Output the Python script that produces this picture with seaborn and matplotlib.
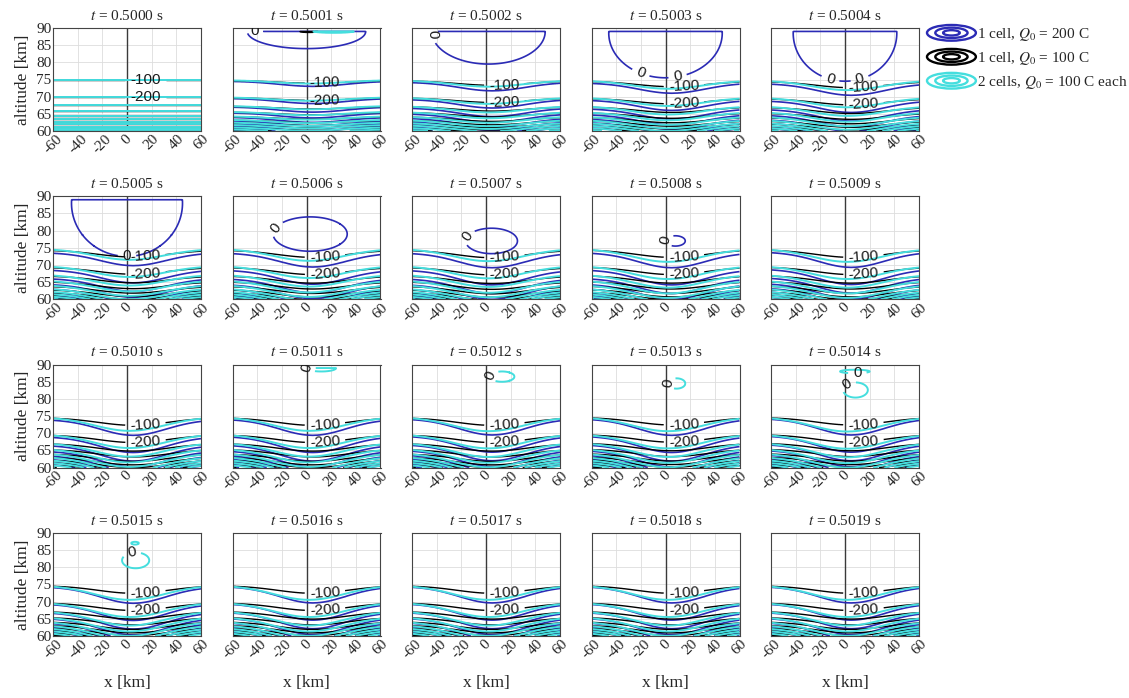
import numpy as np
import matplotlib
matplotlib.use("Agg")
import matplotlib.pyplot as plt
from matplotlib.legend_handler import HandlerBase
from matplotlib.lines import Line2D
from matplotlib.patches import Ellipse
import seaborn as sns

# panel times [s]
times = ["0.5000", "0.5001", "0.5002", "0.5003", "0.5004",
         "0.5005", "0.5006", "0.5007", "0.5008", "0.5009",
         "0.5010", "0.5011", "0.5012", "0.5013", "0.5014",
         "0.5015", "0.5016", "0.5017", "0.5018", "0.5019"]

series = ["1 cell, $Q_0$ = 200 C", "1 cell, $Q_0$ = 100 C", "2 cells, $Q_0$ = 100 C each"]

# vertical profile of the undisturbed field (altitude [km] -> value)
prof_alt = [59.0, 60.2, 60.7, 61.3, 62.0, 62.7, 63.5, 64.5, 65.8, 67.5, 70.0, 75.0, 90.0, 100.0]
prof_val = [-1300, -1100, -1000, -900, -800, -700, -600, -500, -400, -300, -200, -100, -40, -30]
plain_levels = [-1100, -1000, -900, -800, -700, -600, -500, -400, -300]
labelled_levels = [-200, -100]

# layer shift at the edges and central sag [km], per panel
blue_shift = [0, 0.5, 0.8, 1.0, 1.2, 1.4, 1.5, 1.5, 1.4, 1.2, 1.0, 0.9, 0.8, 0.8, 0.7, 0.7, 0.6, 0.6, 0.6, 0.6]
blue_dip = [0, 1.5, 2.5, 3.0, 3.4, 3.8, 4.1, 4.3, 4.4, 4.5, 4.6, 4.7, 4.7, 4.8, 4.8, 4.8, 4.8, 4.8, 4.8, 4.8]
black_shift = [0, 0.3, 0.4, 0.5, 0.6, 0.7, 0.7, 0.7, 0.6, 0.6, 0.5, 0.5, 0.5, 0.4, 0.4, 0.4, 0.4, 0.4, 0.4, 0.4]
black_dip = [0, 0.8, 1.3, 1.6, 1.8, 2.0, 2.1, 2.2, 2.2, 2.2, 2.2, 2.2, 2.2, 2.2, 2.2, 2.2, 2.2, 2.2, 2.2, 2.2]
cyan_shift = [0, 0.2, 0.3, 0.3, 0.3, 0.3, 0.3, 0.3, 0.3, 0.3, 0.3, 0.3, 0.3, 0.3, 0.3, 0.3, 0.3, 0.3, 0.3, 0.3]
cyan_dip = [0, 1.0, 1.8, 2.4, 2.8, 3.2, 3.5, 3.6, 3.8, 3.8, 4.0, 4.0, 4.1, 4.1, 4.2, 4.2, 4.2, 4.2, 4.2, 4.2]
dip_center = [5, 5, 2]
dip_width = [38, 40, 40]

# closed 0 contours (positive regions): panel, series, centre, half-widths [km]
blob_panel = [1, 1, 1, 2, 3, 4, 5, 6, 7, 8, 11, 12, 13, 14, 14, 15, 15]
blob_series = [0, 1, 2, 0, 0, 0, 0, 0, 0, 0, 2, 2, 2, 2, 2, 2, 2]
blob_xc = [0, 2, 22, 2, 0, 0, 0, 3, 4.5, 8, 12, 13, 9, 8, 8.5, 6.5, 7]
blob_zc = [89, 89.3, 89.2, 89, 88.5, 88.5, 88, 79, 77, 77, 89, 86.5, 84.5, 88, 82.6, 87, 82]
blob_rx = [48, 9, 18, 46, 46, 42, 45, 30, 21, 8, 12, 10, 7, 12, 10, 3, 11]
blob_rz = [5, 0.6, 0.6, 9.5, 13, 14, 15.5, 5, 3.7, 1.5, 1.0, 1.5, 1.5, 0.5, 2.2, 0.4, 2.3]
blob_top = 89.0

# where the contour labels sit
level_label_at = {-100: (15, 72), -200: (15, 68)}
zero_label_at = {(1, 0): [(-42, 89)], (2, 0): [(-45, 88)], (3, 0): [(-20, 77), (10, 75.5)],
                 (4, 0): [(-12, 75), (12, 75)], (5, 0): [(0, 72.5)], (6, 0): [(-26, 81)],
                 (7, 0): [(-16, 78.5)], (8, 0): [(-2, 77.5)], (11, 2): [(-3, 89)],
                 (12, 2): [(-2, 88)], (13, 2): [(-1, 85)], (14, 2): [(10, 88), (2, 84)],
                 (15, 2): [(4, 84)]}

colors = ["#2b2bb5", "#000000", "#45dede"]
widths = [1.2, 1.0, 1.4]
shifts = [blue_shift, black_shift, cyan_shift]
dips = [blue_dip, black_dip, cyan_dip]

sns.set_theme(style="whitegrid", rc={"grid.color": "#dddddd", "grid.linewidth": 0.6,
                                     "axes.edgecolor": "#444444", "axes.linewidth": 0.8})
plt.rcParams["font.family"] = ["Liberation Serif", "DejaVu Serif"]
plt.rcParams["mathtext.fontset"] = "stix"
plt.rcParams["axes.unicode_minus"] = False

xs = np.linspace(-60, 60, 241)
zs = np.linspace(60, 90, 601)
X, Z = np.meshgrid(xs, zs)


def field(p, s):
    g = np.exp(-((X - dip_center[s]) / dip_width[s]) ** 2)
    f = np.interp(Z + shifts[s][p] + dips[s][p] * g, prof_alt, prof_val)
    for i in range(len(blob_panel)):
        if blob_panel[i] != p or blob_series[i] != s:
            continue
        e = 1 - ((X - blob_xc[i]) / blob_rx[i]) ** 2 - ((Z - blob_zc[i]) / blob_rz[i]) ** 2
        e = np.minimum(e, (blob_top - Z) * 2)
        f = np.maximum(f, 1000 * e)
    return f


class RingsHandler(HandlerBase):
    def create_artists(self, legend, orig_handle, xdescent, ydescent, width, height, fontsize, trans):
        cx = width / 2 - xdescent
        cy = height / 2 - ydescent
        out = []
        for k in [1.0, 0.66, 0.34]:
            out.append(Ellipse((cx, cy), width * k, height * 1.15 * k, fill=False,
                               edgecolor=orig_handle.get_color(), lw=1.7, transform=trans))
        return out


fig = plt.figure(figsize=(11.29, 6.98), dpi=100)
W, H = 1129, 698

for p, t in enumerate(times):
    row, col = divmod(p, 5)
    left = (53 + col * 179.5) / W
    bottom = 1 - (131 + row * 168.3) / H
    ax = fig.add_axes([left, bottom, 148 / W, 103 / H])
    ax.set_xlim(-60, 60)
    ax.set_ylim(60, 90)
    ax.axvline(0, color="#3a3a3a", lw=1.0, zorder=1.5)
    for s in range(3):
        f = field(p, s)
        kw = dict(colors=colors[s], linewidths=widths[s], linestyles="solid", zorder=2 + s * 0.1)
        ax.contour(X, Z, f, levels=plain_levels, **kw)
        with plt.rc_context({"font.family": "Liberation Sans"}):
            for lev in labelled_levels:
                cs = ax.contour(X, Z, f, levels=[lev], **kw)
                if s == 1:
                    ax.clabel(cs, manual=[level_label_at[lev]], inline=True, fmt="%d",
                              fontsize=11, colors="k")
            if (p, s) in zero_label_at:
                cs = ax.contour(X, Z, f, levels=[0], **kw)
                ax.clabel(cs, manual=zero_label_at[(p, s)], inline=True, fmt="%d",
                          fontsize=11, colors="k")
            elif any(bp == p and bs == s for bp, bs in zip(blob_panel, blob_series)):
                ax.contour(X, Z, f, levels=[0], **kw)
    ax.set_xticks(range(-60, 61, 20))
    ax.set_yticks(range(60, 91, 5))
    ax.tick_params(axis="both", labelsize=11, pad=1, direction="in", length=3,
                   color="#444444", labelleft=(col == 0))
    ax.tick_params(axis="x", labelrotation=45)
    ax.set_title(f"$t$ = {t} s", fontsize=11, pad=6)
    if col == 0:
        ax.set_ylabel("altitude [km]", fontsize=12.5, labelpad=4)
    if row == 3:
        ax.set_xlabel("x [km]", fontsize=12.5, labelpad=10)
    for sp in ax.spines.values():
        sp.set_visible(True)

handles = [Line2D([], [], color=c) for c in colors]
fig.legend(handles, series, handler_map={Line2D: RingsHandler()}, loc="upper left",
           bbox_to_anchor=(927 / W, 1 - 26 / H), frameon=False, fontsize=11,
           handlelength=3.2, handleheight=1.0, handletextpad=0.1, labelspacing=0.45,
           borderpad=0, borderaxespad=0)

fig.savefig("out.png", dpi=100)
